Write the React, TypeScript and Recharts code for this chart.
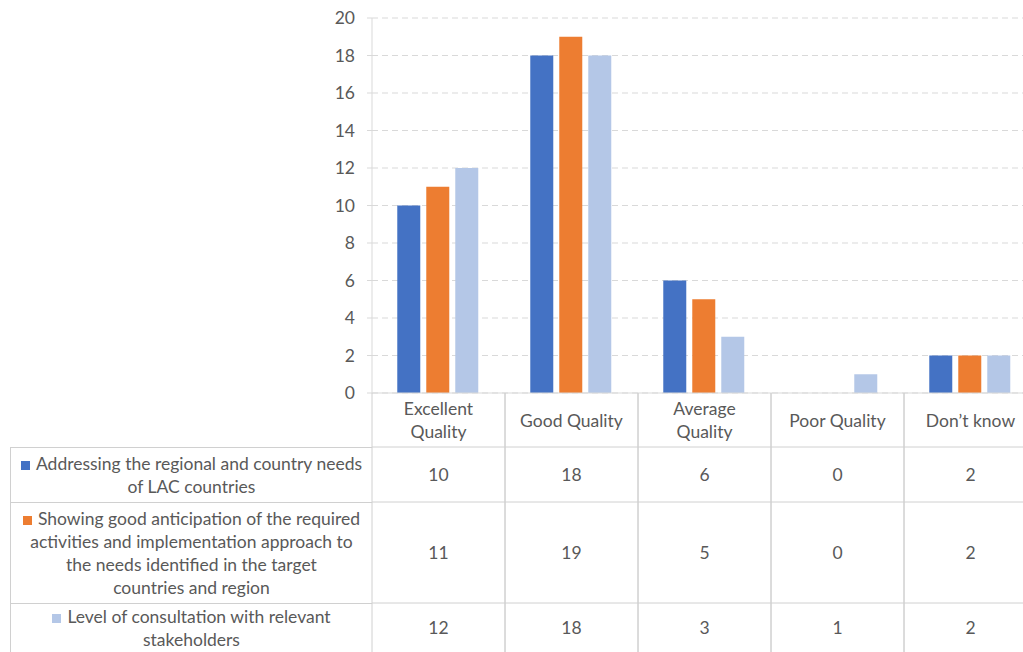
import React from 'react';
import { BarChart, Bar, XAxis, YAxis, CartesianGrid } from 'recharts';

const categories = ['Excellent Quality', 'Good Quality', 'Average Quality', 'Poor Quality', 'Don’t know'];
const addressing = [10, 18, 6, 0, 2];
const anticipation = [11, 19, 5, 0, 2];
const consultation = [12, 18, 3, 1, 2];
const yTicks = [0, 2, 4, 6, 8, 10, 12, 14, 16, 18, 20];

const seriesNames = [
  'Addressing the regional and country needs of LAC countries',
  'Showing good anticipation of the required activities and implementation approach to the needs identified in the target countries and region',
  'Level of consultation with relevant stakeholders',
];
// how Excel broke the legend cells
const legendLines = [
  ['Addressing the regional and country needs', 'of LAC countries'],
  ['Showing good anticipation of the required', 'activities and implementation approach to', 'the needs identified in the target', 'countries and region'],
  ['Level of consultation with relevant', 'stakeholders'],
];
const seriesValues = [addressing, anticipation, consultation];
const colors = ['#4472C4', '#ED7D31', '#B4C7E7'];

const data = categories.map((cat, i) => ({
  cat,
  s0: addressing[i],
  s1: anticipation[i],
  s2: consultation[i],
}));

const W = 1040;
const H = 652;
const PLOT_LEFT = 372;
const RIGHT = 3;
const TOP = 18;
const X_AXIS_H = 259;
const AXIS_Y = H - X_AXIS_H;
const COL_W = (W - PLOT_LEFT - RIGHT) / categories.length;
const ROW_Y = [AXIS_Y, 447, 502, 603, H];
const LINE = '#D0D0D0';
const TEXT = '#595959';
const FONT = 'Lato, "Open Sans", sans-serif';
const FS = 17.5;

function wrapLabel(s: string) {
  if (s.length <= 13) return [s];
  const k = s.lastIndexOf(' ');
  return [s.slice(0, k), s.slice(k + 1)];
}

function TableTick(props: any) {
  const { x, index } = props;
  const left = x - COL_W / 2;
  const right = x + COL_W / 2;
  const lines = wrapLabel(categories[index]);
  const headMid = (ROW_Y[0] + ROW_Y[1]) / 2;
  return (
    <g>
      <line x1={left} x2={left} y1={AXIS_Y} y2={H} stroke={LINE} />
      <line x1={right} x2={right} y1={AXIS_Y} y2={H} stroke={LINE} />
      {ROW_Y.slice(1, 4).map((ry) => (
        <line key={ry} x1={left} x2={right} y1={ry} y2={ry} stroke={LINE} />
      ))}
      {lines.map((ln, j) => (
        <text
          key={ln}
          x={x}
          y={headMid + (j - (lines.length - 1) / 2) * 23}
          textAnchor="middle"
          dominantBaseline="central"
          fontSize={FS}
          fill={TEXT}
          fontFamily={FONT}
        >
          {ln}
        </text>
      ))}
      {seriesValues.map((vals, s) => (
        <text
          key={s}
          x={x}
          y={(ROW_Y[s + 1] + ROW_Y[s + 2]) / 2}
          textAnchor="middle"
          dominantBaseline="central"
          fontSize={FS}
          fill={TEXT}
          fontFamily={FONT}
        >
          {vals[index]}
        </text>
      ))}
    </g>
  );
}

export default function App() {
  return (
    <div
      style={{
        position: 'absolute', left: 0, top: 0, width: 1023, height: 652,
        overflow: 'hidden', background: '#fff', fontFamily: FONT, color: TEXT,
      }}
    >
      <BarChart
        width={W}
        height={H}
        data={data}
        margin={{ top: TOP, right: RIGHT, left: 0, bottom: 0 }}
        barCategoryGap="19%"
        barGap={6}
      >
        <CartesianGrid vertical={false} stroke="#D9D9D9" strokeDasharray="6 4" />
        <YAxis
          domain={[0, 20]}
          ticks={yTicks}
          width={PLOT_LEFT}
          axisLine={{ stroke: '#D9D9D9' }}
          tickLine={{ stroke: '#D9D9D9' }}
          tickSize={5}
          tickMargin={12}
          tick={{ fontSize: FS, fill: TEXT, fontFamily: FONT }}
        />
        <XAxis
          dataKey="cat"
          height={X_AXIS_H}
          interval={0}
          axisLine={{ stroke: '#D9D9D9' }}
          tickLine={false}
          tick={<TableTick />}
        />
        {colors.map((c, i) => (
          <Bar key={i} dataKey={`s${i}`} name={seriesNames[i]} fill={c} isAnimationActive={false} />
        ))}
      </BarChart>
      <div
        style={{
          position: 'absolute', left: 10, top: ROW_Y[1], width: PLOT_LEFT - 10,
          height: H - ROW_Y[1], borderLeft: `1px solid ${LINE}`, boxSizing: 'border-box',
        }}
      >
        {legendLines.map((lines, s) => (
          <div
            key={s}
            style={{
              height: ROW_Y[s + 2] - ROW_Y[s + 1],
              borderTop: s > 0 ? `1px solid ${LINE}` : 'none',
              boxSizing: 'border-box',
              display: 'flex', alignItems: 'center', justifyContent: 'center',
              textAlign: 'center', fontSize: FS, lineHeight: '23px', whiteSpace: 'nowrap',
            }}
          >
            <div>
              {lines.map((ln, j) => (
                <div key={j}>
                  {j === 0 && (
                    <span
                      style={{
                        display: 'inline-block', width: 9, height: 9,
                        background: colors[s], marginRight: 6,
                      }}
                    />
                  )}
                  {ln}
                </div>
              ))}
            </div>
          </div>
        ))}
      </div>
      <div
        style={{
          position: 'absolute', left: 10, top: ROW_Y[1], width: PLOT_LEFT - 10,
          borderTop: `1px solid ${LINE}`,
        }}
      />
    </div>
  );
}
